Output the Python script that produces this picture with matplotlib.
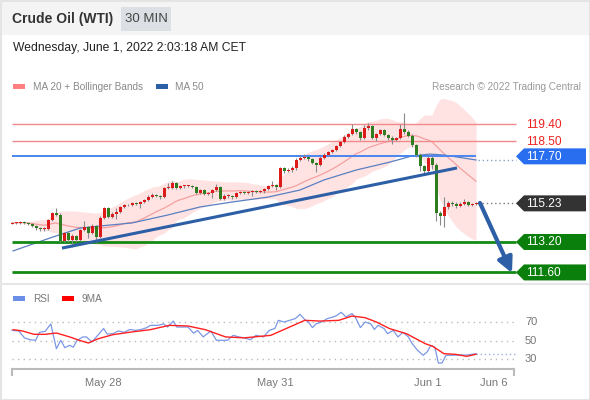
import matplotlib
matplotlib.use('Agg')
import matplotlib.pyplot as plt
import matplotlib.transforms as mtransforms
from matplotlib.patches import Polygon, Rectangle
import pandas as pd

plt.rcParams['font.family'] = ['Liberation Sans', 'DejaVu Sans']

# 30 min candles, Crude Oil (WTI)
first_open = 114.15
closes = [114.20, 114.20, 114.25, 114.20, 114.15, 114.04, 113.93, 113.88, 113.88, 114.36,
          114.72, 114.62, 113.25, 113.67, 113.30, 113.51, 113.30, 113.83, 113.99, 113.67,
          114.04, 113.46, 114.46, 114.99, 114.51, 114.67, 114.78, 115.04, 115.14, 115.14,
          115.25, 115.20, 115.30, 115.41, 115.56, 115.67, 115.62, 115.56, 116.04, 116.04,
          116.30, 116.04, 116.14, 116.14, 116.14, 116.09, 115.77, 115.93, 115.72, 115.77,
          115.93, 116.09, 115.46, 115.62, 115.62, 115.56, 115.77, 115.83, 115.77, 115.83,
          115.88, 115.83, 115.88, 115.98, 116.14, 116.19, 116.09, 117.09, 116.93, 116.98,
          117.09, 117.51, 117.61, 117.67, 117.56, 117.35, 117.25, 117.61, 117.77, 117.93,
          118.03, 118.24, 118.45, 118.72, 118.87, 119.14, 118.98, 118.66, 119.19, 119.29,
          118.66, 118.87, 119.08, 118.82, 118.66, 118.56, 118.66, 119.14, 118.98, 118.77,
          118.30, 117.77, 117.19, 116.93, 117.61, 117.25, 114.72, 114.57, 115.04, 115.25,
          115.20, 115.09, 115.20, 115.30, 115.14, 115.20, 115.23]
highs = [114.25, 114.25, 114.30, 114.28, 114.25, 114.20, 114.10, 114.00, 113.98, 114.42,
         114.80, 115.00, 114.70, 113.75, 113.72, 113.60, 113.55, 113.90, 114.30, 114.05,
         114.15, 114.10, 114.55, 115.05, 115.04, 114.75, 115.00, 115.10, 115.20, 115.20,
         115.30, 115.30, 115.38, 115.48, 115.65, 115.75, 115.72, 115.68, 116.10, 116.30,
         116.38, 116.35, 116.20, 116.22, 116.20, 116.20, 116.15, 116.00, 115.98, 115.85,
         116.00, 116.25, 116.15, 115.70, 115.70, 115.68, 115.85, 115.90, 115.88, 115.90,
         115.95, 115.95, 115.95, 116.05, 116.22, 116.40, 116.25, 117.15, 117.15, 117.10,
         117.20, 117.60, 117.75, 117.80, 117.72, 117.62, 117.42, 117.70, 117.85, 118.00,
         118.10, 118.30, 118.52, 118.80, 118.95, 119.40, 119.20, 119.05, 119.35, 119.45,
         119.35, 118.95, 119.15, 119.15, 118.90, 118.75, 118.72, 119.40, 120.00, 119.10,
         118.85, 118.35, 117.85, 117.25, 117.70, 117.70, 117.35, 114.85, 115.55, 115.35,
         115.35, 115.28, 115.30, 115.45, 115.35, 115.26, 115.28]
lows = [114.12, 114.15, 114.17, 114.15, 114.08, 113.98, 113.85, 113.80, 113.78, 113.83,
        114.30, 114.55, 113.20, 113.20, 113.20, 112.95, 113.22, 113.25, 113.78, 113.40,
        113.60, 113.15, 113.40, 114.40, 114.45, 114.45, 114.40, 114.72, 115.00, 115.08,
        115.10, 115.15, 115.00, 115.25, 115.36, 115.50, 115.55, 115.45, 115.50, 115.98,
        115.98, 115.98, 115.98, 116.06, 116.08, 116.02, 115.70, 115.70, 115.65, 115.66,
        115.50, 115.88, 115.40, 115.40, 115.52, 115.48, 115.50, 115.70, 115.70, 115.72,
        115.60, 115.76, 115.77, 115.80, 115.92, 116.08, 115.95, 116.05, 116.85, 116.88,
        116.90, 117.00, 117.45, 117.55, 117.48, 117.28, 116.90, 117.18, 117.55, 117.70,
        117.88, 117.98, 118.18, 118.40, 118.65, 118.80, 118.90, 118.55, 118.60, 119.10,
        118.60, 118.50, 118.80, 118.75, 118.58, 118.35, 118.50, 118.60, 118.90, 118.70,
        118.20, 117.65, 116.95, 116.70, 116.85, 117.05, 114.30, 114.10, 114.00, 114.95,
        115.10, 115.00, 115.05, 115.15, 115.08, 115.10, 115.15]

# MA 50
ma50_idx = [0.25, 9.5, 17, 22, 30, 39, 47, 55, 64, 72, 78, 86, 94.5, 100, 104.5, 108, 116]
ma50_val = [112.73, 113.41, 113.93, 114.04, 114.20, 114.62, 115.04, 115.30, 115.56, 115.93,
            116.46, 116.98, 117.40, 117.72, 117.82, 117.77, 117.51]

trend_idx = [12.5, 111.25]
trend_val = [112.88, 117.09]
arrow_from = (117, 115.25)
arrow_to = (125, 111.57)

levels = [119.40, 118.50, 117.70, 115.23, 113.20, 111.60]
level_labels = ['119.40', '118.50', '117.70', '115.23', '113.20', '111.60']

rsi_idx = [0, 1.7, 3.1, 4.5, 5.9, 6.9, 8.3, 9.7, 11.1, 12.2, 13.2, 14.4, 15.3, 16.3, 17.7,
           18.6, 20.0, 21.5, 22.9, 23.8, 25.2, 26.6, 28.0, 29.5, 30.9, 32.3, 33.7, 34.6, 36.5,
           37.9, 38.9, 40.3, 41.2, 42.6, 44.0, 45.4, 46.4, 47.8, 48.7, 49.7, 51.1, 52.5, 53.9,
           55.3, 56.7, 58.1, 59.6, 61.0, 62.9, 64.3, 65.7, 66.6, 68.0, 69.4, 70.8, 72.0, 73.2,
           74.1, 75.1, 76.0, 77.4, 78.8, 80.3, 81.2, 82.3, 83.5, 85.0, 85.9, 87.1, 88.3, 89.7,
           90.6, 91.5, 93.0, 93.9, 95.3, 96.5, 97.7, 99.1, 100.0, 101.4, 102.8, 103.8, 104.7,
           105.7, 106.6, 107.5, 108.5, 109.9, 111.8, 113.7, 116.0]
rsi_val = [61, 60.4, 53, 51, 50.4, 59, 60, 68, 41.4, 50.4, 42.5, 45, 43, 50.4, 54,
           54, 48.6, 56, 63, 57, 57.5, 60.4, 59, 62, 61, 62, 64, 66.4, 66.4,
           68, 64.6, 71, 64.6, 64.6, 64.6, 58, 61, 54, 57, 60.4, 50.4, 50.4, 50.4,
           55.7, 54, 53, 51, 55.7, 54, 61, 63, 71.8, 70, 71.8, 73.6, 78.2, 72.5,
           70, 64, 68, 70, 73.6, 75.4, 77, 80.4, 75.4, 79, 74.6, 64, 70, 68,
           62, 66.4, 63, 57.5, 61, 54, 59, 54, 47, 39.6, 34.3, 38, 45,
           43, 26, 26, 34.3, 34.3, 34.6, 34.6, 36]
ma9_idx = [0.3, 2.6, 5.5, 8.3, 11.1, 14.4, 16.8, 19.1, 21.5, 25.2, 29.9, 34.6, 39.3, 44.0,
           48.3, 53.4, 58.1, 64.7, 68.5, 73.2, 77.0, 81.7, 85.0, 88.3, 91.1, 94.4, 98.6,
           103.3, 105.2, 108.0, 110.8, 113.7, 116.0]
ma9_val = [61.8, 60.4, 56.8, 56.8, 58.2, 54, 50.4, 47.5, 52, 56.4, 59.3, 61.8, 66.4, 65.7,
           61.8, 54, 53, 55.7, 62.9, 71.8, 71, 71.8, 76.4, 74.6, 70, 62.9, 57.5,
           46.8, 43.9, 36, 35.4, 33.2, 35.4]

time_ticks = [22.75, 65.75, 104, 120.5]
time_labels = ['May 28', 'May 31', 'Jun 1', 'Jun 6']
rsi_ticks = [70, 50, 30]

W, H = 590, 400


def px_box(x0, y0, x1, y1):
    return [x0 / W, 1 - y1 / H, (x1 - x0) / W, (y1 - y0) / H]


fig = plt.figure(figsize=(W / 100, H / 100), dpi=100)
fig.patch.set_facecolor('white')

bg = fig.add_axes([0, 0, 1, 1])
bg.set_xlim(0, W)
bg.set_ylim(H, 0)
bg.axis('off')
bg.add_patch(Rectangle((0, 0), W, 35, color='#f4f4f4', lw=0))
bg.add_patch(Rectangle((121, 7), 50, 24, color='#dcdfe3', lw=0))
bg.add_patch(Rectangle((0.5, 0.5), W - 1, H - 1, fill=False, ec='#e4e4e4', lw=1.5))
bg.plot([0, W], [284, 284], color='#e6e6e6', lw=1.5)
bg.text(12, 19, 'Crude Oil (WTI)', fontsize=10, fontweight='bold', color='#333333', va='center')
bg.text(146, 19, '30 MIN', fontsize=9.5, color='#444444', va='center', ha='center')
bg.text(13, 48, 'Wednesday, June 1, 2022 2:03:18 AM CET', fontsize=8.7, color='#222222', va='center')
bg.add_patch(Rectangle((13, 84), 12, 5, color='#ff8080', lw=0))
bg.text(33, 86.5, 'MA 20 + Bollinger Bands', fontsize=7.2, color='#888888', va='center')
bg.add_patch(Rectangle((156, 84), 12, 5, color='#2d5fa6', lw=0))
bg.text(175, 86.5, 'MA 50', fontsize=7.2, color='#888888', va='center')
bg.text(581, 86.5, 'Research \u00a9 2022 Trading Central', fontsize=7.2, color='#999999',
        va='center', ha='right')
bg.add_patch(Rectangle((13, 296), 12, 5, color='#6a8ee8', lw=0))
bg.text(33, 298.5, 'RSI', fontsize=7.2, color='#777777', va='center')
bg.add_patch(Rectangle((62, 296), 12, 5, color='#ff0000', lw=0))
bg.text(82, 298.5, '9MA', fontsize=7.2, color='#777777', va='center')

# ---- price panel
ax = fig.add_axes(px_box(0, 95, W, 283))
ax.set_xlim(-3, 144.5)
ax.set_ylim(111.045, 120.924)
ax.axis('off')
ax.patch.set_alpha(0)

s = pd.Series(closes)
ma20 = s.rolling(20, min_periods=1).mean()
sd = s.rolling(20, min_periods=1).std(ddof=0)
idx = list(range(len(closes)))
ax.fill_between(idx, ma20 - 2 * sd, ma20 + 2 * sd, color='#ffdede', alpha=0.85, lw=0, zorder=1)
ax.plot(idx, ma20, color='#f4a0a0', lw=0.9, zorder=2)
ax.plot(ma50_idx, ma50_val, color='#5a7fc0', lw=0.9, zorder=2)

ax.hlines([119.40, 118.50], 0, 126, color='#f08a8a', lw=1, zorder=2)
ax.hlines(117.70, 0, 116, color='#4a86f0', lw=1.4, zorder=2)
ax.hlines([113.20, 111.60], 0, 126, color='#138a13', lw=2, zorder=2)
ax.hlines(ma50_val[-1], 116.5, 126, color='#8aa0c8', lw=1, linestyles=(0, (1, 2)), zorder=2)
ax.hlines(closes[-1], 116.5, 126, color='#777777', lw=1, linestyles=(0, (1, 2)), zorder=2)

opens = [first_open] + closes[:-1]
for i, (o, c, h, l) in enumerate(zip(opens, closes, highs, lows)):
    col = '#dd1a1a' if c >= o else '#2e7d1e'
    ax.vlines(i, l, h, color='#8a8a8a', lw=0.8, zorder=3)
    ax.bar(i, max(abs(c - o), 0.03), bottom=min(o, c), width=0.75, color=col, lw=0, zorder=4)

ax.plot(trend_idx, trend_val, color='#2d5fa6', lw=2.2, zorder=5, solid_capstyle='butt')
ax.annotate('', xy=arrow_to, xytext=arrow_from,
            arrowprops=dict(arrowstyle='-|>,head_length=0.9,head_width=0.45', color='#2d5fa6',
                            lw=3, shrinkA=0, shrinkB=0), zorder=6)

# ---- rsi panel
ar = fig.add_axes(px_box(0, 288, W, 398))
ar.set_xlim(-3, 144.5)
ar.set_ylim(-11.46, 106.44)
ar.axis('off')
ar.patch.set_alpha(0)
ar.hlines(rsi_ticks, 0, 126, color='#bbbbbb', lw=1, linestyles=(0, (1, 3)))
ar.plot(ma9_idx, ma9_val, color='#ff2020', lw=1, zorder=3)
ar.plot(rsi_idx, rsi_val, color='#7b98e6', lw=0.9, zorder=2)
ar.hlines(rsi_val[-1], rsi_idx[-1], 126, color='#9ab0e8', lw=1, linestyles=(0, (1, 2)))

# ---- overlay: value tags, axis labels
ov = fig.add_axes([0, 0, 1, 1])
ov.set_xlim(0, W)
ov.set_ylim(H, 0)
ov.axis('off')
ov.patch.set_alpha(0)
fig.canvas.draw()


def y_px(axis, v):
    return H - axis.transData.transform((0, v))[1]


tag_colors = {'117.70': '#2a6ef0', '115.23': '#333333', '113.20': '#0b7f0b', '111.60': '#0b7f0b'}
for lv, lab in zip(levels, level_labels):
    yc = y_px(ax, lv)
    if lab in tag_colors:
        ov.add_patch(Polygon([(516, yc), (524, yc - 8), (586, yc - 8), (586, yc + 8), (524, yc + 8)],
                             closed=True, color=tag_colors[lab], lw=0))
        ov.text(526, yc + 0.5, lab, fontsize=8.6, color='white', va='center')
    else:
        ov.text(526, yc + 0.5, lab, fontsize=8.6, color='#ee2020', va='center')

for t in rsi_ticks:
    ov.text(525, y_px(ar, t), str(t), fontsize=8, color='#777777', va='center')

ov.plot([12, 514], [369, 369], color='#bbbbbb', lw=1.5)
ov.plot([12, 12], [369, 375], color='#bbbbbb', lw=1.5)
ov.plot([514, 514], [369, 375], color='#bbbbbb', lw=1.5)
bt = mtransforms.blended_transform_factory(ar.transData, ov.transData)
for t, lab in zip(time_ticks, time_labels):
    ov.text(t, 383, lab, transform=bt, fontsize=8, color='#777777', ha='center', va='center')

fig.savefig('out.png', dpi=100)
